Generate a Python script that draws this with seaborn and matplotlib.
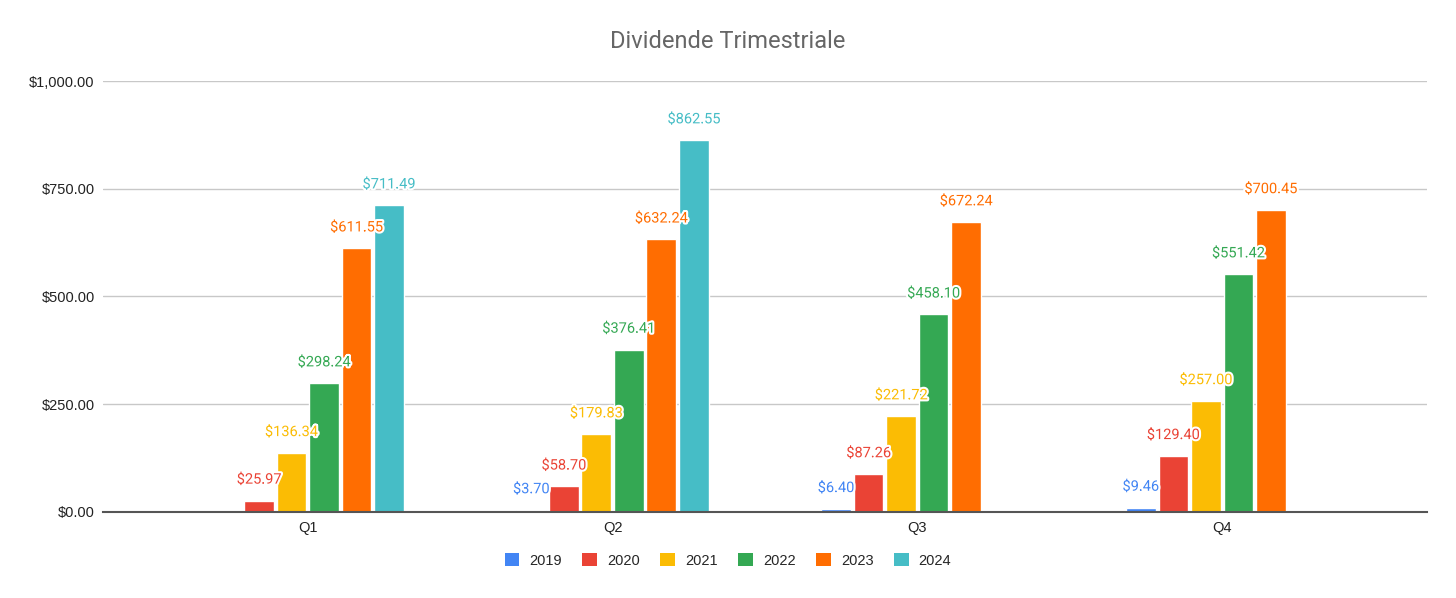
import matplotlib
matplotlib.use("Agg")
import matplotlib.pyplot as plt
import matplotlib.patheffects as pe
from matplotlib.ticker import StrMethodFormatter
from matplotlib.patches import Patch
import seaborn as sns
import pandas as pd
import numpy as np

quarters = ["Q1", "Q2", "Q3", "Q4"]
years = ["2019", "2020", "2021", "2022", "2023", "2024"]
v2019 = [np.nan, 3.70, 6.40, 9.46]
v2020 = [25.97, 58.70, 87.26, 129.40]
v2021 = [136.34, 179.83, 221.72, 257.00]
v2022 = [298.24, 376.41, 458.10, 551.42]
v2023 = [611.55, 632.24, 672.24, 700.45]
v2024 = [711.49, 862.55, np.nan, np.nan]
series = [v2019, v2020, v2021, v2022, v2023, v2024]
colors = ["#4285F4", "#EA4335", "#FBBC04", "#34A853", "#FF6D01", "#46BDC6"]
title = "Dividende Trimestriale"

rows = []
for y, vals in zip(years, series):
    for q, v in zip(quarters, vals):
        rows.append({"Quarter": q, "Year": y, "Value": v})
df = pd.DataFrame(rows)

sns.set_theme(style="white")
plt.rcParams['font.family'] = ['Roboto', 'DejaVu Sans']

fig = plt.figure(figsize=(14.56, 5.98), dpi=100)
ax = fig.add_axes([0.0707, 0.1443, 0.9093, 0.7202])

sns.barplot(data=df, x="Quarter", y="Value", hue="Year", order=quarters,
            hue_order=years, palette=colors, width=0.64, gap=0.09,
            saturation=1, ax=ax, legend=False, errorbar=None)

ax.set_xlim(-0.672, 3.672)
ax.set_ylim(0, 1000)
ax.set_yticks([0, 250, 500, 750, 1000])
ax.yaxis.set_major_formatter(StrMethodFormatter("${x:,.2f}"))
ax.grid(axis="y", color="#c8c8c8", linewidth=1)
ax.set_axisbelow(True)
for s in ["left", "right", "top"]:
    ax.spines[s].set_visible(False)
ax.spines["bottom"].set_color("#555555")
ax.spines["bottom"].set_linewidth(1.5)
ax.spines["bottom"].set_zorder(5)
ax.tick_params(axis="both", length=0, labelsize=10.5, colors="#222222")
ax.tick_params(axis="y", pad=6)
ax.tick_params(axis="x", pad=7)
for lab in ax.get_yticklabels() + ax.get_xticklabels():
    lab.set_fontfamily(["Liberation Sans", "DejaVu Sans"])
ax.set_xlabel("")
ax.set_ylabel("")

for cont, col in zip(ax.containers, colors):
    texts = ax.bar_label(cont, fmt="${:,.2f}", padding=10, color=col, fontsize=10.5)
    for t in texts:
        t.set_path_effects([pe.withStroke(linewidth=3, foreground="white")])
        t.set_clip_on(False)

fig.text(0.5, 0.93, title, ha="center", va="center", fontsize=17, color="#666666")

handles = [Patch(facecolor=c, edgecolor="none") for c in colors]
fig.legend(handles, years, loc="center", bbox_to_anchor=(0.5, 0.063), ncol=6,
           frameon=False, handlelength=1.0, handleheight=1.0,
           columnspacing=1.4, handletextpad=0.7,
           prop={"family": ["Liberation Sans", "DejaVu Sans"], "size": 10.5})

fig.savefig("out.png", dpi=100)
